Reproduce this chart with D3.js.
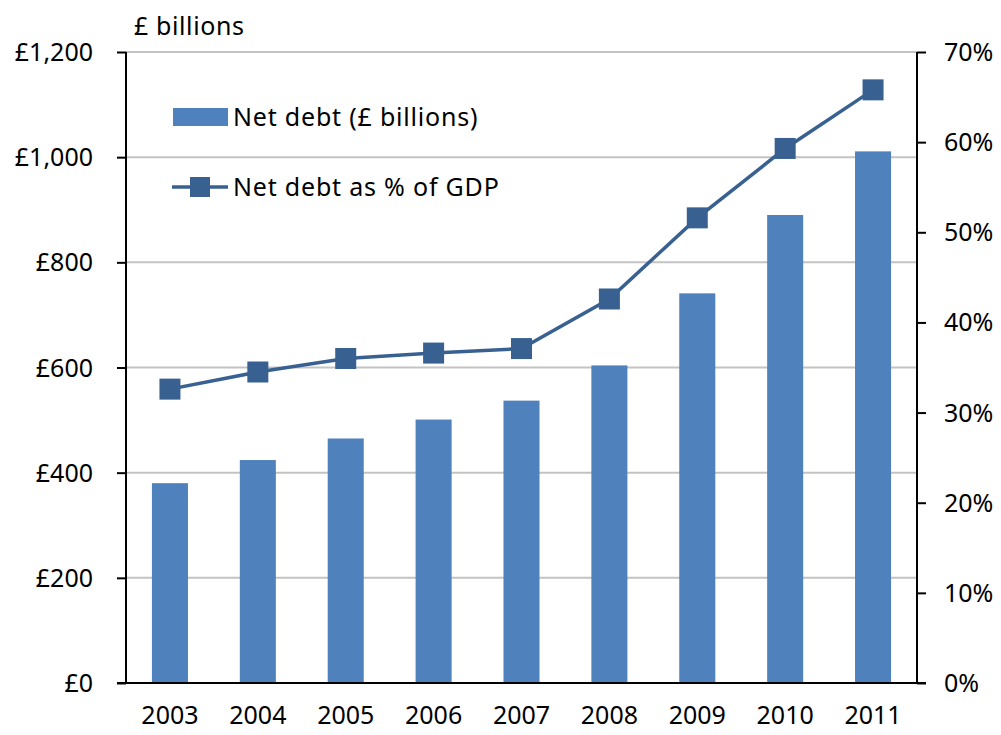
<!DOCTYPE html>
<html>
<head>
<meta charset="utf-8">
<script src="https://cdn.jsdelivr.net/npm/d3@7"></script>
<style>
  html, body { margin: 0; padding: 0; background: #ffffff; }
  svg { display: block; }
  text { font-family: "Noto Sans", "DejaVu Sans", sans-serif; fill: #000; }
</style>
</head>
<body>
<svg id="chart" width="1001" height="735"></svg>
<script>
// UK public sector net debt, 2003–2011
const years = ["2003", "2004", "2005", "2006", "2007", "2008", "2009", "2010", "2011"];
const netDebtBillions = [380, 424, 465, 501, 537, 604, 741, 890, 1011];
const netDebtPctGDP = [32.6, 34.5, 36.0, 36.6, 37.1, 42.6, 51.6, 59.3, 65.8];
const leftTicks = [0, 200, 400, 600, 800, 1000, 1200];
const rightTicks = [0, 10, 20, 30, 40, 50, 60, 70];
const seriesNames = ["Net debt (£ billions)", "Net debt as % of GDP"];

const barColor = "#4f81bd";
const lineColor = "#386192";
const fontSize = "25px";

const svg = d3.select("#chart");
const m = { left: 126, right: 1001 - 917, top: 52, bottom: 735 - 683 };
const W = 1001 - m.left - m.right;
const H = 735 - m.top - m.bottom;

const g = svg.append("g").attr("transform", `translate(${m.left},${m.top})`);

const x = d3.scaleBand().domain(years).range([0, W]).paddingInner(0.59).paddingOuter(0.295);
const yL = d3.scaleLinear().domain([0, 1200]).range([H, 0]);
const yR = d3.scaleLinear().domain([0, 70]).range([H, 0]);

// horizontal gridlines
g.append("g").selectAll("line").data(leftTicks.filter(d => d > 0)).join("line")
  .attr("x1", 0).attr("x2", W)
  .attr("y1", d => yL(d)).attr("y2", d => yL(d))
  .attr("stroke", "#c3c3c3").attr("stroke-width", 2);

// bars
g.append("g").selectAll("rect").data(years).join("rect")
  .attr("x", d => x(d))
  .attr("width", x.bandwidth())
  .attr("y", (d, i) => yL(netDebtBillions[i]))
  .attr("height", (d, i) => H - yL(netDebtBillions[i]))
  .attr("fill", barColor);

// left axis
const leftAxis = g.append("g")
  .call(d3.axisLeft(yL).tickValues(leftTicks).tickSize(9).tickPadding(24)
    .tickFormat(d => "£" + d3.format(",")(d)));
// right axis
const rightAxis = g.append("g").attr("transform", `translate(${W},0)`)
  .call(d3.axisRight(yR).tickValues(rightTicks).tickSize(9).tickPadding(18)
    .tickFormat(d => d + "%"));
[leftAxis, rightAxis].forEach(a => {
  a.select(".domain").attr("stroke", "#000").attr("stroke-width", 2).attr("d", `M0,0V${H}`);
  a.selectAll(".tick line").attr("stroke", "#000").attr("stroke-width", 2);
  a.selectAll(".tick text").style("font-size", fontSize).attr("dy", "0.34em");
});

// bottom axis (no ticks)
const bottomAxis = g.append("g").attr("transform", `translate(0,${H})`)
  .call(d3.axisBottom(x).tickSize(0).tickPadding(23));
bottomAxis.select(".domain").attr("stroke", "#000").attr("stroke-width", 2)
  .attr("d", `M-9,0H${W + 9}`);
bottomAxis.selectAll(".tick text").style("font-size", fontSize);

// line series
const line = d3.line()
  .x((d, i) => x(years[i]) + x.bandwidth() / 2)
  .y(d => yR(d));
g.append("path").datum(netDebtPctGDP)
  .attr("d", line).attr("fill", "none")
  .attr("stroke", lineColor).attr("stroke-width", 3.5);
const mk = 21;
g.append("g").selectAll("rect").data(netDebtPctGDP).join("rect")
  .attr("x", (d, i) => x(years[i]) + x.bandwidth() / 2 - mk / 2)
  .attr("y", d => yR(d) - mk / 2)
  .attr("width", mk).attr("height", mk)
  .attr("fill", lineColor);

// axis title
svg.append("text").attr("x", 134).attr("y", 35)
  .style("font-size", fontSize).attr("letter-spacing", "0.6px").text("£ billions");

// legend
const lg = svg.append("g");
lg.append("rect").attr("x", 173).attr("y", 108).attr("width", 55).attr("height", 18).attr("fill", barColor);
lg.append("text").attr("x", 233).attr("y", 126).style("font-size", fontSize)
  .attr("letter-spacing", "0.8px").text(seriesNames[0]);
lg.append("line").attr("x1", 172).attr("x2", 228).attr("y1", 187).attr("y2", 187)
  .attr("stroke", lineColor).attr("stroke-width", 3.5);
lg.append("rect").attr("x", 190).attr("y", 177).attr("width", 20).attr("height", 20).attr("fill", lineColor);
lg.append("text").attr("x", 233).attr("y", 196).style("font-size", fontSize)
  .attr("letter-spacing", "0.8px").text(seriesNames[1]);
</script>
</body>
</html>
